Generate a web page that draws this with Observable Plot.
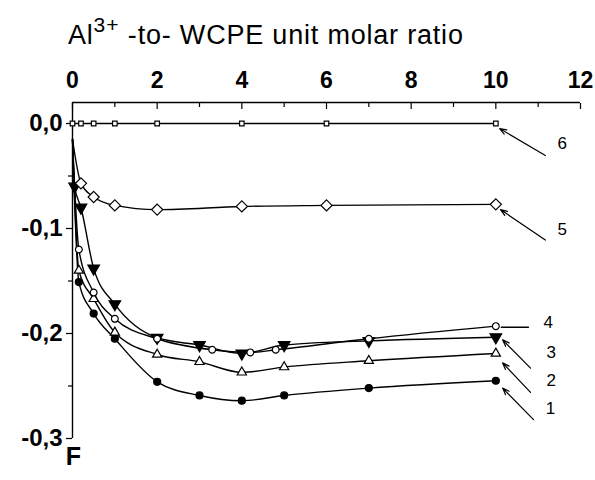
<!DOCTYPE html>
<html>
<head>
<meta charset="utf-8">
<script src="https://cdn.jsdelivr.net/npm/d3@7"></script>
<script src="https://cdn.jsdelivr.net/npm/@observablehq/plot@0.6"></script>
<style>
  body { margin: 0; background: #fff; }
  #title { font-family: Arial, "Liberation Sans", sans-serif; font-size: 27px; height: 62px; box-sizing: border-box; padding: 20px 0 0 68px; line-height: 30px; white-space: nowrap; color: #000; letter-spacing: 0.8px; }
  #title sup { font-size: 21px; position: relative; top: -2px; vertical-align: super; line-height: 0; letter-spacing: 1px; }
</style>
</head>
<body>
<div id="title">Al<sup>3+</sup> -to- WCPE unit molar ratio</div>
<div id="chart"></div>
<script>
// ---- data ----
const xTicks = [0, 2, 4, 6, 8, 10, 12];
const xMinorTicks = [1, 3, 5, 7, 9, 11];
const yTicks = [0, -0.1, -0.2, -0.3];
const yMinorTicks = [-0.05, -0.15, -0.25];
const xDomain = [0, 12];
const yDomain = [-0.3, 0.02];

const s1x = [0, 0.15, 0.5, 1, 2, 3, 4, 5, 7, 10];
const s1y = [-0.015, -0.151, -0.181, -0.205, -0.246, -0.259, -0.264, -0.259, -0.252, -0.245];
const s2x = [0, 0.15, 0.5, 1, 2, 3, 4, 5, 7, 10];
const s2y = [-0.015, -0.14, -0.167, -0.199, -0.220, -0.227, -0.237, -0.232, -0.226, -0.219];
const s3x = [0, 0.05, 0.2, 0.5, 1, 2, 3, 4, 5, 7, 10];
const s3y = [-0.015, -0.06, -0.08, -0.138, -0.172, -0.204, -0.211, -0.219, -0.211, -0.207, -0.2035];
const s4x = [0, 0.15, 0.5, 1, 2, 3.3, 4.2, 4.8, 7, 10];
const s4y = [-0.015, -0.12, -0.161, -0.186, -0.205, -0.2155, -0.218, -0.2155, -0.205, -0.193];
const s5x = [0, 0.2, 0.5, 1, 2, 4, 6, 10];
const s5y = [-0.015, -0.057, -0.070, -0.078, -0.082, -0.079, -0.078, -0.077];
const s6x = [0, 0.2, 0.5, 1, 2, 4, 6, 10];
const s6y = [0, 0, 0, 0, 0, 0, 0, 0];

// curve labels and leader arrows
const labelText = ["6", "5", "4", "3", "2", "1"];
const labelX = [11.57, 11.57, 11.24, 11.31, 11.31, 11.29];
const labelY = [-0.019, -0.101, -0.190, -0.218, -0.245, -0.271];
const arrowX1 = [11.17, 11.17, 10.82, 10.82, 10.89];
const arrowY1 = [-0.0305, -0.111, -0.233, -0.256, -0.282];
const arrowX2 = [10.09, 10.11, 10.16, 10.16, 10.16];
const arrowY2 = [-0.0048, -0.082, -0.206, -0.228, -0.252];
const leader4X = [10.13, 10.77];
const leader4Y = [-0.194, -0.194];

// ---- build tables ----
const series = [
  {id: "1", xs: s1x, ys: s1y, symbol: "circle", fill: "black", rotate: 0, r: 3.5, markStart: false},
  {id: "2", xs: s2x, ys: s2y, symbol: "triangle2", fill: "white", rotate: 0, r: 4.4, markStart: false},
  {id: "3", xs: s3x, ys: s3y, symbol: "triangle", fill: "black", rotate: 180, r: 4.3, markStart: false},
  {id: "4", xs: s4x, ys: s4y, symbol: "circle", fill: "white", rotate: 0, r: 3.4, markStart: false},
  {id: "5", xs: s5x, ys: s5y, symbol: "diamond2", fill: "white", rotate: 0, r: 5, markStart: false},
  {id: "6", xs: s6x, ys: s6y, symbol: "square2", fill: "white", rotate: 0, r: 2.9, markStart: true}
];
const lineMarks = [];
const dotMarks = [];
for (const s of series) {
  const rows = s.xs.map((x, i) => ({x, y: s.ys[i]}));
  lineMarks.push(Plot.line(rows, {x: "x", y: "y", curve: "monotone-x", stroke: "black", strokeWidth: 1.4}));
  const pts = rows.filter(d => s.markStart || d.x > 0);
  dotMarks.push(Plot.dot(pts, {x: "x", y: "y", symbol: () => s.symbol, r: s.r, fill: s.fill, stroke: "black", strokeWidth: 1.2, rotate: s.rotate}));
}
const labels = labelText.map((t, i) => ({t, x: labelX[i], y: labelY[i]}));
const arrows = arrowX1.map((x1, i) => ({x1, y1: arrowY1[i], x2: arrowX2[i], y2: arrowY2[i]}));
const leader4 = leader4X.map((x, i) => ({x, y: leader4Y[i]}));

const fmt = d => d3.format(".1f")(d).replace(".", ",").replace("\u2212", "-");
const font = "Arial, 'Liberation Sans', sans-serif";

const chart = Plot.plot({
  width: 595,
  height: 418,
  marginTop: 40,
  marginLeft: 72,
  marginRight: 15,
  marginBottom: 42,
  x: {domain: xDomain, label: null},
  y: {domain: yDomain, label: null},
  style: {fontFamily: font, color: "black", background: "white", overflow: "visible"},
  marks: [
    Plot.ruleY([yDomain[1]], {x1: xDomain[0], x2: xDomain[1], stroke: "black", strokeWidth: 1.4}),
    Plot.ruleX([xDomain[0]], {y1: yDomain[0], y2: yDomain[1], stroke: "black", strokeWidth: 1.4}),
    Plot.axisX({anchor: "top", ticks: xTicks, tickSize: -6, tickPadding: 21, fontSize: 23, fontWeight: "bold", tickFormat: d => String(d), strokeWidth: 1.2}),
    Plot.axisX({anchor: "top", ticks: xMinorTicks, tickSize: -4, text: null, strokeWidth: 1.2}),
    Plot.axisY({anchor: "left", ticks: yTicks, tickSize: 6, tickPadding: 4, fontSize: 24, fontWeight: "bold", tickFormat: fmt, strokeWidth: 1.2}),
    Plot.axisY({anchor: "left", ticks: yMinorTicks, tickSize: 4, text: null, strokeWidth: 1.2}),
    ...lineMarks,
    Plot.line(leader4, {x: "x", y: "y", stroke: "black", strokeWidth: 1.4}),
    Plot.arrow(arrows, {x1: "x1", y1: "y1", x2: "x2", y2: "y2", stroke: "black", strokeWidth: 1.2, headLength: 9, headAngle: 40}),
    ...dotMarks,
    Plot.text(labels, {x: "x", y: "y", text: "t", fontSize: 17, fill: "black"}),
    Plot.text(["F"], {frameAnchor: "bottom-left", lineAnchor: "middle", text: d => d, dy: 18, dx: 1, textAnchor: "middle", fontSize: 25, fontWeight: "bold"})
  ]
});
document.getElementById("chart").appendChild(chart);
</script>
</body>
</html>
